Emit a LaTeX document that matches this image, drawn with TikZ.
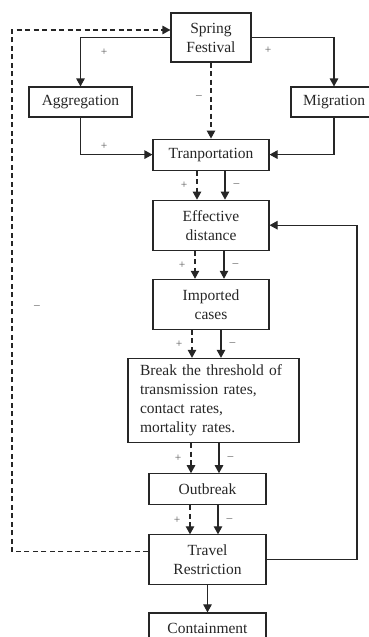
\documentclass[tikz,border=0pt]{standalone}
\usepackage{fontspec}
\setmainfont{Liberation Serif}
\usepackage{tikz}
\usetikzlibrary{positioning,shapes,arrows.meta}
\tikzset{
  line/.style={draw=black!85, line width=1.1pt, -{Triangle[length=8pt,width=8.5pt]}},
  dline/.style={line, dash pattern=on 5pt off 3.5pt},
  sign/.style={text=black!65, font=\fontsize{11.5}{13}\selectfont, inner sep=0pt},
}

\begin{document}
\begin{tikzpicture}[x=1pt, y=-1pt]
                    \tikzstyle{item}=[rectangle, draw=black!85, line width=1.1pt,
                        text=black!85, align=center, inner sep=0pt,
                        font=\fontsize{15.5}{19}\selectfont,
                        minimum width=116pt]
                    \useasboundingbox (0,0) rectangle (368,637);

                    \node (Spring) [item, minimum width=80pt, minimum height=49pt]
                        at (211,37.5) {Spring\\Festival};
                    \node (Aggregation) [item, minimum width=103pt, minimum height=30pt]
                        at (80.5,102) {Aggregation};
                    \node (Migration) [item, minimum width=86pt, minimum height=30pt]
                        at (334,102) {Migration};

                    \node (Transport) [item, minimum height=31pt, below= 76pt of
                        Spring] {Tranportation};
                    \node (Effective) [item, minimum height=50pt, below= 29pt of
                        Transport] {Effective\\distance};
                    \node (Imported) [item, minimum height=50pt, below= 28pt of
                        Effective] {Imported\\cases};
                    \node (Threshold) [item, align=left, text width=147pt,
                        inner xsep=12pt, inner ysep=6.5pt, below= 28pt of
                        Imported, xshift=2.5pt]
                        {Break the threshold of\\transmission rates,\\contact
                        rates,\\mortality rates.};
                    \node (Outbreak) [item, minimum width=117pt, minimum
                        height=31pt, below= 30pt of Threshold, xshift=-6pt]
                        {Outbreak};
                    \node (Travel) [item, minimum width=117pt, minimum
                        height=50pt, below= 29pt of Outbreak] {Travel\\Restriction};
                    \node (Containment) [item, minimum width=117pt, minimum
                        height=31pt, below= 27pt of Travel] {Containment};

                    % festival branches
                    \draw[line] (Spring.west) -| (Aggregation.north);
                    \draw[line] (Spring.east) -| (Migration.north);
                    \draw[dline] (Spring) -- (Transport);
                    \draw[line] (Aggregation.south) |- (Transport.west);
                    \draw[line] (Migration.south) |- (Transport.east);
                    \node (SignAggA) [sign] at (104,52) {+};
                    \node (SignMigA) [sign] at (268,50) {+};
                    \node (SignSpring) [sign] at (199,97) {--};
                    \node (SignAggB) [sign] at (104,146) {+};

                    % main chain
                    \draw[dline] ([xshift=-14pt]Transport.south) --
                        ([xshift=-14pt]Transport.south |- Effective.north)
                        node[sign, midway, left=9pt] (SignTE1) {+};
                    \draw[line] ([xshift=14pt]Transport.south) --
                        ([xshift=14pt]Transport.south |- Effective.north)
                        node[sign, midway, right=8pt] (SignTE2) {--};

                    \draw[dline] ([xshift=-16pt]Effective.south) --
                        ([xshift=-16pt]Effective.south |- Imported.north)
                        node[sign, midway, left=9pt] (SignEI1) {+};
                    \draw[line] ([xshift=13pt]Effective.south) --
                        ([xshift=13pt]Effective.south |- Imported.north)
                        node[sign, midway, right=8pt] (SignEI2) {--};

                    \draw[dline] ([xshift=-19pt]Imported.south) --
                        ([xshift=-19pt]Imported.south |- Threshold.north)
                        node[sign, midway, left=9pt] (SignIT1) {+};
                    \draw[line] ([xshift=10pt]Imported.south) --
                        ([xshift=10pt]Imported.south |- Threshold.north)
                        node[sign, midway, right=8pt] (SignIT2) {--};

                    \draw[dline] ([xshift=-16.5pt]Outbreak.north |- Threshold.south) --
                        ([xshift=-16.5pt]Outbreak.north)
                        node[sign, midway, left=9pt] (SignTO1) {+};
                    \draw[line] ([xshift=11.5pt]Outbreak.north |- Threshold.south) --
                        ([xshift=11.5pt]Outbreak.north)
                        node[sign, midway, right=8pt] (SignTO2) {--};

                    \draw[dline] ([xshift=-17.5pt]Outbreak.south) --
                        ([xshift=-17.5pt]Outbreak.south |- Travel.north)
                        node[sign, midway, left=9pt] (SignOT1) {+};
                    \draw[line] ([xshift=10.5pt]Outbreak.south) --
                        ([xshift=10.5pt]Outbreak.south |- Travel.north)
                        node[sign, midway, right=8pt] (SignOT2) {--};

                    \draw[line] (Travel) -- (Containment);

                    % feedback loops
                    \coordinate (LoopLeft) at (12,300);
                    \coordinate (LoopRight) at (357,400);
                    \draw[dline] ([yshift=8pt]Travel.west) -| (LoopLeft)
                        |- ([yshift=7.5pt]Spring.west);
                    \node (SignLoop) [sign] at (37,307) {--};
                    \draw[line] (Travel.east) -| (LoopRight) |- (Effective.east);
                \end{tikzpicture}
\end{document}
